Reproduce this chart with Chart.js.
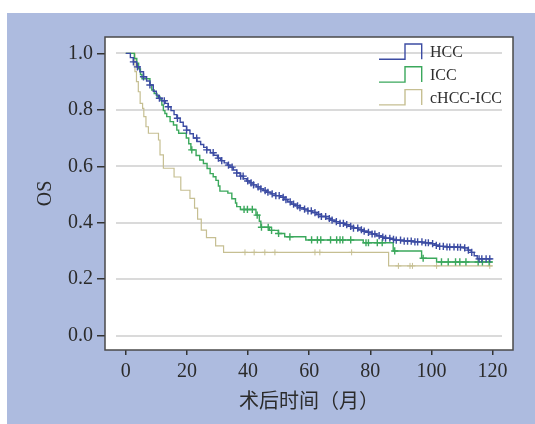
<!DOCTYPE html>
<html lang="zh">
<head>
<meta charset="UTF-8">
<script src="https://cdn.jsdelivr.net/npm/chart.js"></script>
<title>OS</title>
<style>
  body { margin: 0; background: #fff; }
</style>
</head>
<body>
<canvas id="osChart" width="535" height="424"></canvas>
<script>
// axis ticks
const xTicks = [0, 20, 40, 60, 80, 100, 120];
const yTicks = [0, 0.2, 0.4, 0.6, 0.8, 1.0];
const groupNames = ['HCC', 'ICC', 'cHCC-ICC'];

// HCC: step points (month, survival) and censored months
const hccTime = [0, 1.5, 2.5, 3.6, 4.6, 5.8, 6.8, 7.9, 9.0, 10.0, 10.7, 11.8, 12.9, 13.9, 14.8, 15.8, 16.7, 17.8, 18.8, 19.9,
  21.0, 22.1, 23.3, 24.5, 25.5, 26.5, 27.7, 28.8, 30.0, 31.0, 32.2, 33.2, 34.1, 35.2, 36.3, 37.4, 38.5, 39.6, 40.6, 41.7,
  42.8, 44.0, 45.0, 46.1, 47.5, 49.0, 50.5, 51.8, 53.0, 54.3, 55.6, 57.0, 58.2, 59.5, 61.0, 62.5, 64.0, 65.5, 67.0, 68.5,
  70.0, 71.5, 73.0, 74.5, 76.0, 77.5, 79.0, 80.5, 82.0, 83.5, 85.0, 86.5, 88.5, 91.0, 94.0, 97.0, 99.5, 101.0, 102.5, 105.0,
  108.0, 110.5, 112.0, 113.0, 114.0, 115.0, 120.0];
const hccSurv = [1.0, 0.985, 0.970, 0.952, 0.935, 0.917, 0.902, 0.888, 0.866, 0.852, 0.841, 0.832, 0.823, 0.811, 0.797, 0.783, 0.770, 0.756, 0.742, 0.728,
  0.715, 0.700, 0.688, 0.677, 0.667, 0.658, 0.648, 0.639, 0.629, 0.620, 0.612, 0.604, 0.597, 0.587, 0.576, 0.565, 0.556, 0.548, 0.541, 0.534,
  0.527, 0.520, 0.514, 0.508, 0.502, 0.496, 0.490, 0.482, 0.474, 0.466, 0.460, 0.453, 0.448, 0.442, 0.436, 0.429, 0.422, 0.415, 0.409, 0.404,
  0.398, 0.393, 0.387, 0.381, 0.375, 0.370, 0.366, 0.360, 0.354, 0.349, 0.345, 0.341, 0.338, 0.335, 0.332, 0.329, 0.326, 0.320, 0.316, 0.314,
  0.313, 0.311, 0.303, 0.295, 0.283, 0.272, 0.272];
const hccCensor = [2.5, 3.8, 5.8, 7.9, 11.0, 12.6, 13.9, 16.9, 19.9, 23.2, 26.5, 28.6, 30.3, 31.4, 33.6, 34.8, 36.3, 37.6, 38.4, 39.9,
  41.0, 41.8, 43.3, 44.2, 45.6, 46.5, 47.9, 49.1, 50.2, 51.5, 52.4, 53.8, 54.9, 56.2, 57.0, 58.5, 59.6, 60.7, 61.9, 63.1,
  64.0, 65.4, 66.6, 67.5, 68.9, 70.1, 71.2, 72.3, 73.6, 74.5, 75.9, 77.1, 78.0, 79.4, 80.6, 81.5, 82.9, 84.1, 85.0, 86.4,
  87.6, 88.5, 89.9, 91.1, 92.2, 93.4, 94.6, 95.5, 96.9, 98.1, 99.0, 100.4, 101.6, 102.7, 103.9, 105.1, 106.0, 107.4, 108.6, 109.5,
  110.9, 112.1, 113.2, 115.6, 116.5, 117.9, 119.1];

// ICC
const iccTime = [0, 2.8, 3.6, 4.2, 4.8, 5.3, 7.9, 8.5, 9.3, 10.2, 11.2, 11.8, 12.3, 12.8, 13.4, 14.5, 15.6, 16.7, 17.3, 19.8,
  20.6, 21.3, 23.0, 24.2, 25.4, 26.6, 27.6, 28.6, 29.5, 30.3, 30.8, 33.4, 34.7, 35.9, 36.3, 37.5, 42.6, 43.7, 44.2, 47.0,
  49.9, 52.0, 58.9, 77.7, 87.5, 96.8, 101.7, 120.0];
const iccSurv = [1.0, 0.982, 0.965, 0.945, 0.925, 0.910, 0.888, 0.870, 0.858, 0.846, 0.835, 0.817, 0.797, 0.787, 0.776, 0.758, 0.746, 0.728, 0.717, 0.700,
  0.680, 0.658, 0.638, 0.622, 0.610, 0.592, 0.574, 0.563, 0.550, 0.530, 0.512, 0.505, 0.485, 0.470, 0.457, 0.447, 0.427, 0.405, 0.384, 0.373,
  0.362, 0.350, 0.339, 0.329, 0.300, 0.274, 0.261, 0.261];
const iccCensor = [21.6, 38.7, 39.8, 41.4, 43.0, 44.4, 46.6, 47.7, 50.0, 53.7, 60.8, 62.7, 63.8, 67.0, 69.0, 70.1, 71.0, 73.6, 78.6, 79.4,
  82.3, 83.9, 88.0, 97.3, 103.3, 105.5, 107.9, 109.3, 111.3, 115.3, 116.7, 118.9];

// cHCC-ICC
const chccTime = [0, 3.0, 3.5, 4.1, 4.7, 5.5, 5.9, 6.6, 7.4, 10.7, 11.2, 12.3, 15.8, 18.0, 21.0, 22.5, 23.5, 24.7, 26.4, 29.4,
  32.0, 86.0, 120.0];
const chccSurv = [1.0, 0.935, 0.900, 0.864, 0.823, 0.805, 0.776, 0.740, 0.717, 0.693, 0.640, 0.593, 0.562, 0.515, 0.486, 0.452, 0.413, 0.374, 0.347, 0.318,
  0.295, 0.247, 0.247];
const chccCensor = [39.0, 42.0, 45.5, 48.8, 61.9, 63.5, 73.9, 89.2, 93.0, 93.8, 101.7, 119.1];

const colors = ['#3c4ca3', '#3ba85c', '#c6bf92'];

function survAt(times, surv, t) {
  let s = surv[0];
  for (let i = 0; i < times.length; i++) {
    if (times[i] <= t) s = surv[i];
  }
  return s;
}

function stepData(times, surv) {
  return times.map((t, i) => ({ x: t, y: surv[i] }));
}

function censorData(times, surv, cens) {
  return cens.map(t => ({ x: t, y: survAt(times, surv, t) }));
}

const series = [
  [hccTime, hccSurv, hccCensor],
  [iccTime, iccSurv, iccCensor],
  [chccTime, chccSurv, chccCensor]
];

const datasets = [];
series.forEach((s, i) => {
  datasets.push({
    label: groupNames[i],
    data: stepData(s[0], s[1]),
    stepped: true,
    borderColor: colors[i],
    borderWidth: i === 2 ? 1.2 : 1.4,
    pointRadius: 0,
    fill: false,
    order: i
  });
  datasets.push({
    label: groupNames[i] + ' censored',
    data: censorData(s[0], s[1], s[2]),
    showLine: false,
    pointStyle: 'cross',
    pointRadius: i === 2 ? 3 : 3.6,
    pointBorderWidth: i === 2 ? 1 : 1.4,
    borderColor: colors[i],
    backgroundColor: colors[i],
    order: i
  });
});

const serif = "'Liberation Serif', 'DejaVu Serif', serif";

const panelPlugin = {
  id: 'panel',
  beforeDraw(chart) {
    const ctx = chart.ctx;
    const a = chart.chartArea;
    ctx.save();
    ctx.fillStyle = '#ffffff';
    ctx.fillRect(0, 0, chart.width, chart.height);
    ctx.fillStyle = '#adbbdf';
    ctx.fillRect(7, 13, chart.width - 7, chart.height - 13);
    ctx.fillStyle = '#ffffff';
    ctx.fillRect(a.left, a.top, a.width, a.height);
    // horizontal gridlines, inset from the frame
    const y = chart.scales.y;
    ctx.strokeStyle = '#dadada';
    ctx.lineWidth = 2;
    yTicks.forEach(v => {
      const py = Math.round(y.getPixelForValue(v));
      ctx.beginPath();
      ctx.moveTo(a.left + 11, py);
      ctx.lineTo(a.right - 11, py);
      ctx.stroke();
    });
    ctx.restore();
  },
  afterDraw(chart) {
    const ctx = chart.ctx;
    const a = chart.chartArea;
    ctx.save();
    ctx.strokeStyle = '#4a4a4a';
    ctx.lineWidth = 1.5;
    ctx.strokeRect(a.left, a.top, a.width, a.height);
    // legend with step glyphs
    ctx.font = '16px ' + serif;
    ctx.textBaseline = 'middle';
    ctx.textAlign = 'left';
    groupNames.forEach((name, i) => {
      const cy = a.top + 15.7 + i * 22.8;
      ctx.strokeStyle = colors[i];
      ctx.lineWidth = 1.4;
      ctx.beginPath();
      ctx.moveTo(a.right - 134, cy + 6.6);
      ctx.lineTo(a.right - 108, cy + 6.6);
      ctx.lineTo(a.right - 108, cy - 8.7);
      ctx.lineTo(a.right - 91.3, cy - 8.7);
      ctx.lineTo(a.right - 91.3, cy + 6.6);
      ctx.stroke();
      ctx.fillStyle = '#2e2e2e';
      ctx.fillText(name, a.right - 83, cy);
    });
    ctx.restore();
  }
};

new Chart(document.getElementById('osChart').getContext('2d'), {
  type: 'line',
  data: { datasets: datasets },
  options: {
    responsive: false,
    animation: false,
    devicePixelRatio: 1,
    layout: { padding: { left: 0, top: 37, right: 22, bottom: 0 } },
    plugins: { legend: { display: false }, tooltip: { enabled: false } },
    scales: {
      x: {
        type: 'linear',
        min: -6.8,
        max: 126.7,
        afterBuildTicks: s => { s.ticks = xTicks.map(v => ({ value: v })); },
        afterFit: s => { s.height = 74; },
        ticks: { font: { family: serif, size: 20 }, color: '#2b2b2b', padding: 5, maxRotation: 0, autoSkip: false },
        grid: { drawOnChartArea: false, drawTicks: true, tickLength: 5, color: '#333', lineWidth: 1.5 },
        border: { display: false },
        title: {
          display: true,
          text: '术后时间（月）',
          font: { family: "'Noto Sans CJK SC', sans-serif", size: 20 },
          color: '#2b2b2b',
          padding: { top: 0, bottom: 12 }
        }
      },
      y: {
        type: 'linear',
        min: -0.051,
        max: 1.058,
        afterBuildTicks: s => { s.ticks = yTicks.map(v => ({ value: v })); },
        afterFit: s => { s.width = 105; },
        ticks: { font: { family: serif, size: 20 }, color: '#2b2b2b', padding: 4, callback: v => v.toFixed(1) },
        grid: { drawOnChartArea: false, drawTicks: true, tickLength: 8, color: '#333', lineWidth: 1.5 },
        border: { display: false },
        title: {
          display: true,
          text: 'OS',
          font: { family: serif, size: 20 },
          color: '#2b2b2b',
          padding: { top: 34, bottom: 0 }
        }
      }
    }
  },
  plugins: [panelPlugin]
});
</script>
</body>
</html>
